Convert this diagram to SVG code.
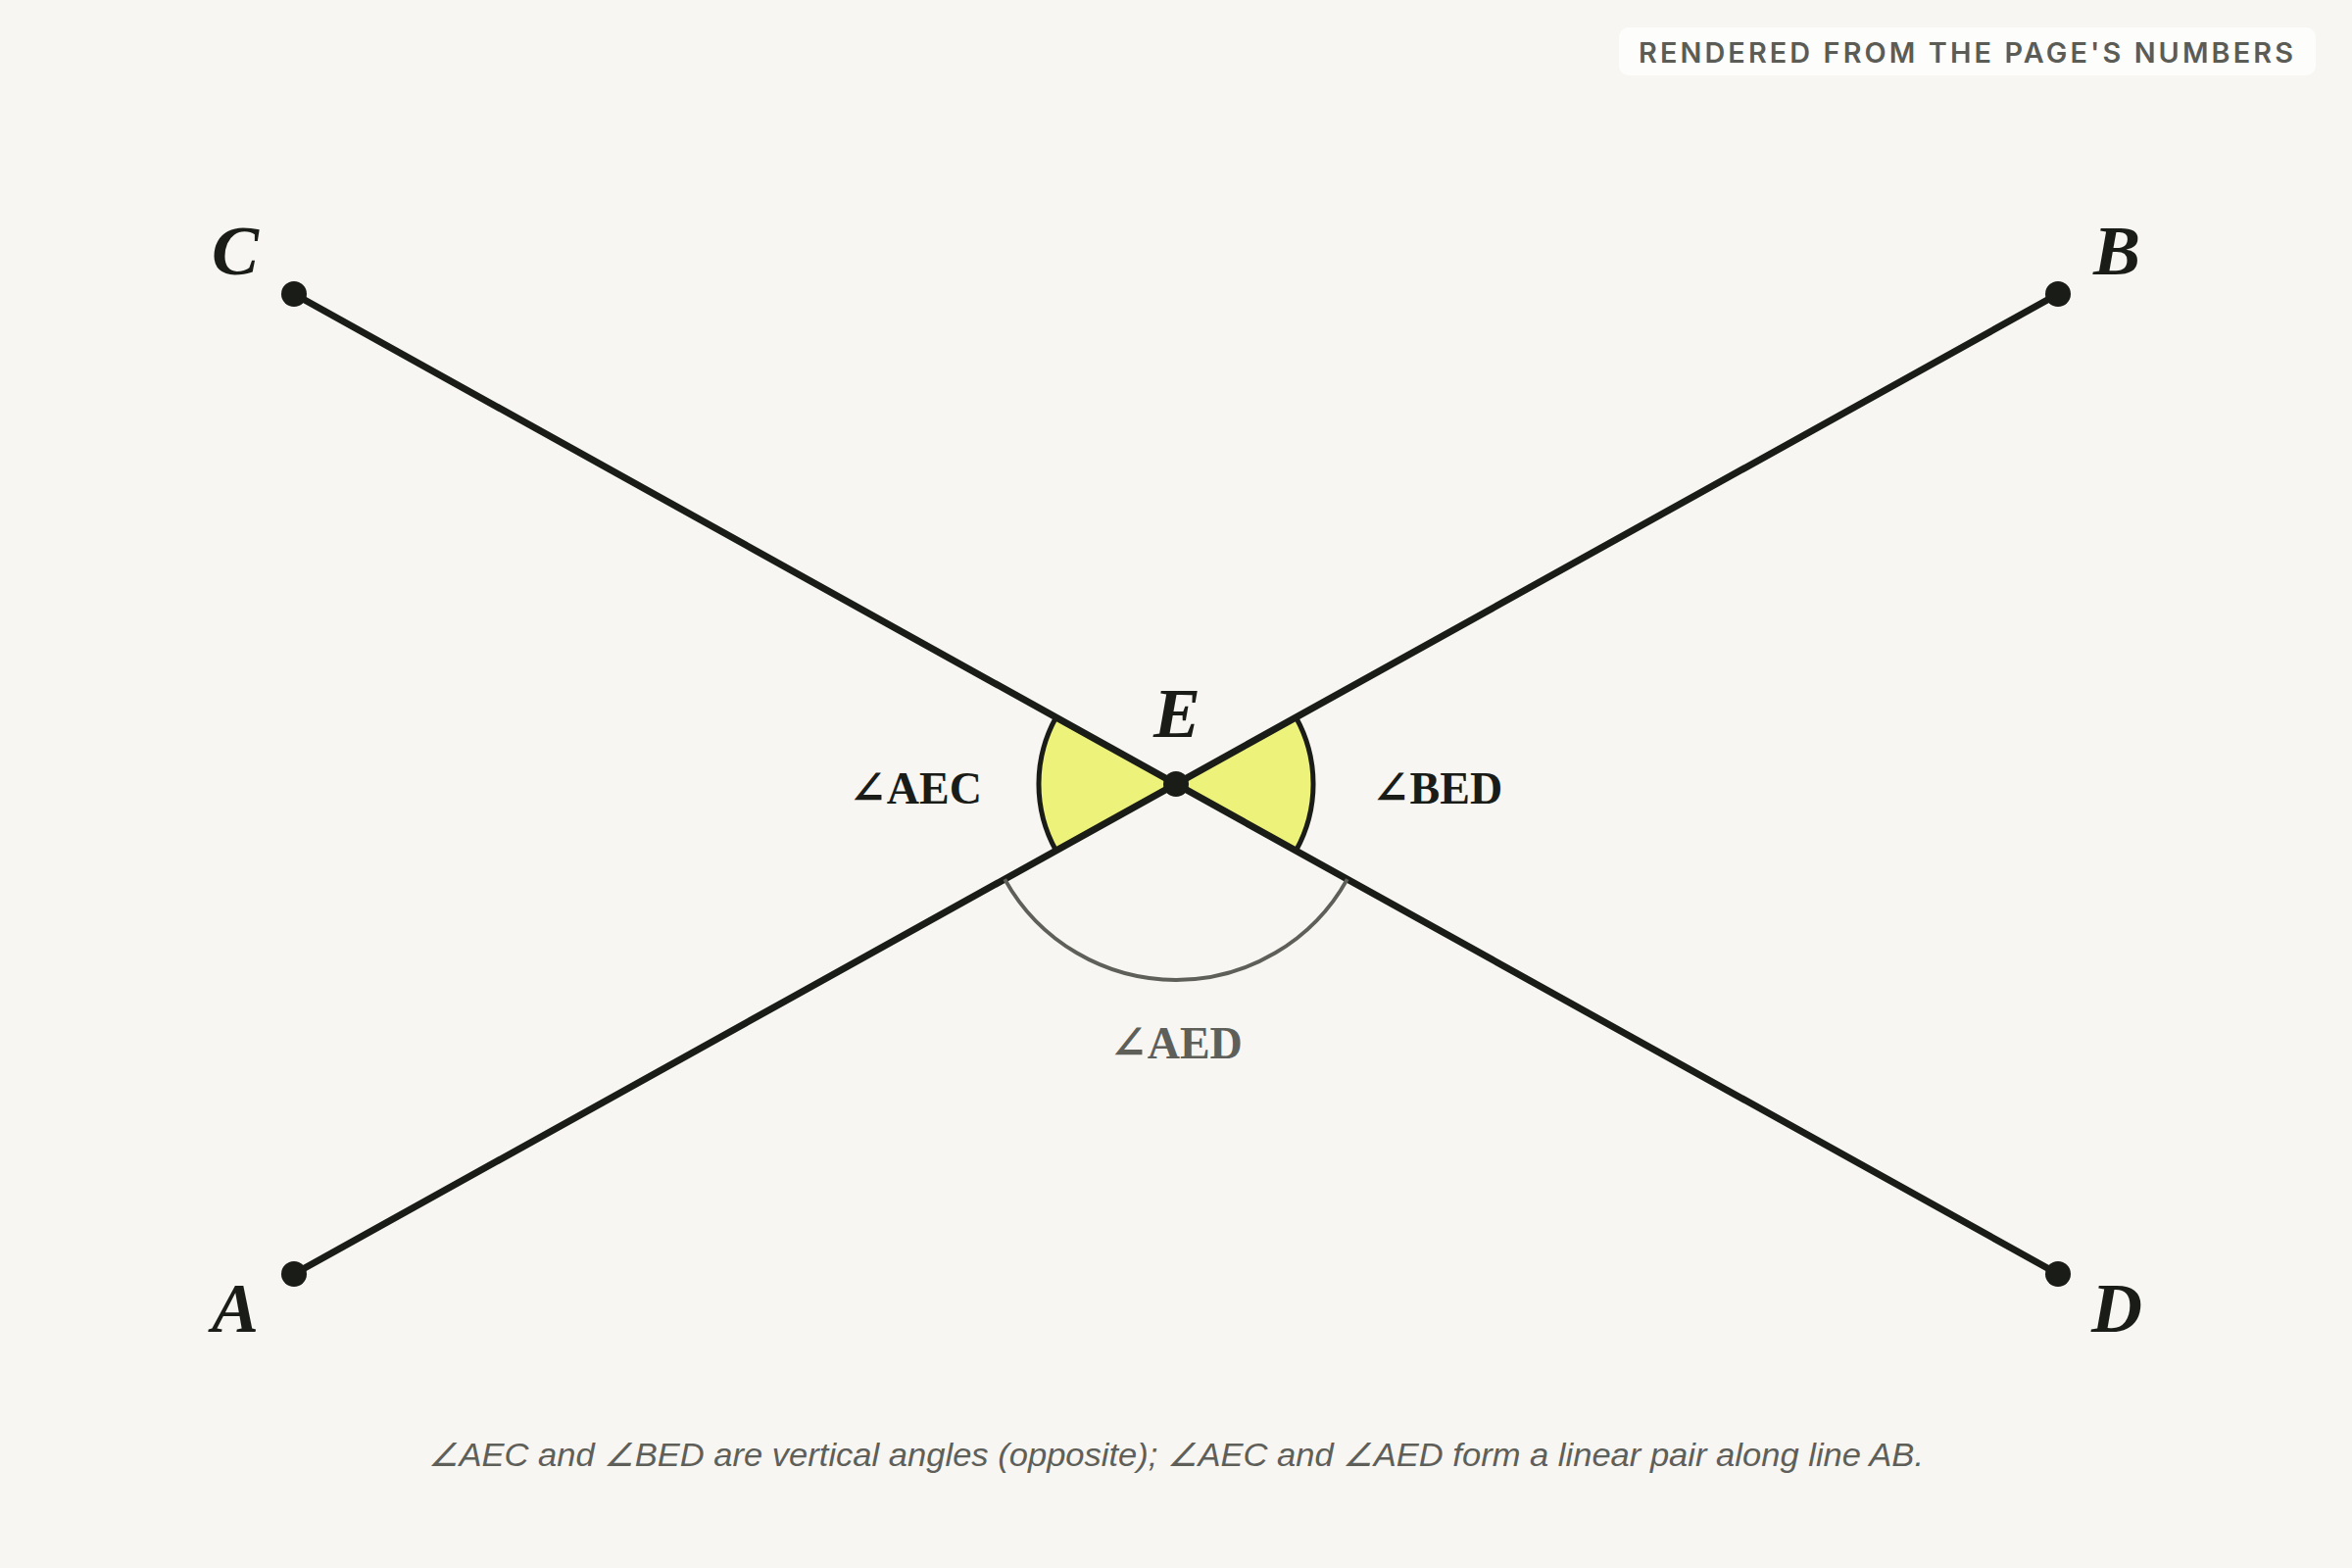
<svg xmlns="http://www.w3.org/2000/svg" width="2400" height="1600" viewBox="0 0 2400 1600">
<style>
.ln{stroke:#1a1c18;stroke-width:7;stroke-linecap:round;fill:none}
.dot{fill:#1a1c18}
.pt{font-family:"Liberation Serif","DejaVu Serif",serif;font-weight:bold;font-style:italic;font-size:72px;fill:#1a1c18;text-anchor:middle}
.ang{font-family:"Liberation Serif","DejaVu Serif",serif;font-weight:bold;font-size:46px;fill:#1a1c18}
.sec{fill:#edf27b;stroke:none}
.secarc{fill:none;stroke:#1a1c18;stroke-width:5}
.grayarc{fill:none;stroke:#5f5f5a;stroke-width:4}
.cap{font-family:"Liberation Sans","Noto Sans",sans-serif;font-style:italic;font-size:33px;fill:#5f5f5a;text-anchor:middle}
.tag{font-family:Inter,"Liberation Sans",sans-serif;font-weight:600;font-size:28px;fill:#5c5c57;letter-spacing:3px}
</style>
<rect x="0" y="0" width="2400" height="1600" fill="#f7f6f2"/>
<g id="badge">
<rect x="1652" y="28" width="711" height="49" rx="10" fill="#fdfdfb"/>
<text class="tag" x="1672" y="64" textLength="671" lengthAdjust="spacingAndGlyphs">RENDERED FROM THE PAGE'S NUMBERS</text>
</g>
<g id="angle-AEC">
<path class="sec" d="M1200,800 L1077.6,732 A140,140 0 0 0 1077.6,868 Z"/>
</g>
<g id="angle-BED">
<path class="sec" d="M1200,800 L1322.4,732 A140,140 0 0 1 1322.4,868 Z"/>
</g>
<g id="connectors">
<line class="ln" x1="300" y1="1300" x2="2100" y2="300"/>
<line class="ln" x1="300" y1="300" x2="2100" y2="1300"/>
</g>
<g id="angle-arcs">
<path class="secarc" d="M1077.6,732 A140,140 0 0 0 1077.6,868"/>
<path class="secarc" d="M1322.4,732 A140,140 0 0 1 1322.4,868"/>
<path class="grayarc" d="M1025.2,897.1 A200,200 0 0 0 1374.8,897.1"/>
</g>
<g id="node-A"><circle class="dot" cx="300" cy="1300" r="13"/><text class="pt" x="240" y="1359">A</text></g>
<g id="node-B"><circle class="dot" cx="2100" cy="300" r="13"/><text class="pt" x="2160" y="280">B</text></g>
<g id="node-C"><circle class="dot" cx="300" cy="300" r="13"/><text class="pt" x="240" y="280">C</text></g>
<g id="node-D"><circle class="dot" cx="2100" cy="1300" r="13"/><text class="pt" x="2160" y="1359">D</text></g>
<g id="node-E"><circle class="dot" cx="1200" cy="800" r="13"/><text class="pt" x="1201" y="752">E</text></g>
<g id="labels">
<text class="ang" x="1002" y="820" text-anchor="end">∠AEC</text>
<text class="ang" x="1400" y="820">∠BED</text>
<text class="ang" x="1200" y="1080" text-anchor="middle" style="fill:#5f5f5a">∠AED</text>
</g>
<g id="caption">
<text class="cap" x="1200" y="1496" textLength="1526" lengthAdjust="spacingAndGlyphs">∠AEC and ∠BED are vertical angles (opposite); ∠AEC and ∠AED form a linear pair along line AB.</text>
</g>
</svg>
